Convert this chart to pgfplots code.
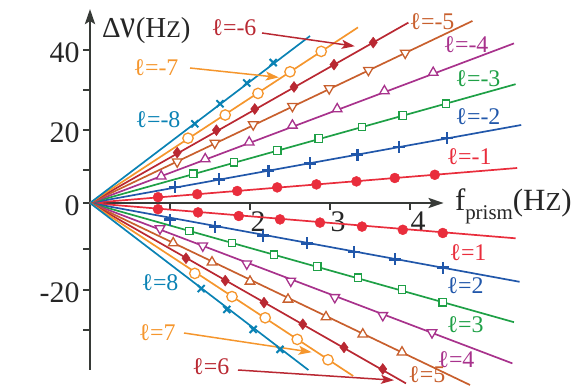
\documentclass[border=0pt]{standalone}
\usepackage{fontspec}
\setmainfont{Liberation Serif}
\usepackage{pgfplots}
\pgfplotsset{compat=1.18}
\usetikzlibrary{arrows.meta}

\definecolor{axgray}{RGB}{55,58,55}
\definecolor{cone}{RGB}{233,45,60}
\definecolor{ctwo}{RGB}{33,87,170}
\definecolor{cthree}{RGB}{30,160,70}
\definecolor{cfour}{RGB}{168,50,140}
\definecolor{cfive}{RGB}{200,95,45}
\definecolor{csix}{RGB}{185,40,50}
\definecolor{cseven}{RGB}{245,150,45}
\definecolor{ceight}{RGB}{10,130,180}

\newcommand{\lab}{\fontsize{24}{24}\selectfont}
\newcommand{\smz}{{\fontsize{24}{24}\selectfont Z}}

\tikzset{
  fit/.style={line width=1.7bp},
  pts/.style={only marks, mark size=5bp},
  open/.style={mark options={fill=white, line width=1.3bp}},
  ann/.style={line width=1.5bp, -{Stealth[length=13bp,width=9bp,inset=3bp]}}
}

\begin{document}
\begin{tikzpicture}
\begin{axis}[
  x=80bp, y=4bp,
  xmin=-1.125, xmax=6.15, ymin=-46.25, ymax=50.75,
  axis lines=middle, axis line style={draw=none},
  clip=false,
  xtick={1,2,3,4}, xticklabels={,2,3,4},
  ytick={-31.75,-21.75,-11.5,0,8.25,18.25,28.25,38.25},
  yticklabels={,\textnormal{-20},,0,,20,,40},
  hide obscured x ticks=false, hide obscured y ticks=false,
  tick align=outside, major tick length=7bp,
  tick style={line width=2.5bp, color=axgray},
  /pgf/number format/assume math mode=true,
  ticklabel style={font=\fontsize{30}{30}\selectfont, text=black!85},
  xticklabel style={anchor=north, xshift=8bp, yshift=2bp},
  yticklabel style={anchor=east, yshift=-3bp},
]
\coordinate (bl) at (rel axis cs:0,0);
\coordinate (tr) at (rel axis cs:1,1);

% axes
\draw[axgray, line width=2.8bp, -{Stealth[length=15bp,width=10bp,inset=3bp]}] (axis cs:0,-41.75) -- (axis cs:0,48.5);
\draw[axgray, line width=2.5bp, -{Stealth[length=15bp,width=10bp,inset=3bp]}] (axis cs:0,0) -- (axis cs:4.42,0);

% l = -1 .. -8
\addplot[cone, fit] coordinates {(0,0) (5.34,8.75)};
\addplot[cone, pts, mark=*] coordinates {(0.85,1.45) (1.34,2.2) (1.84,3.0) (2.34,3.9) (2.83,4.65) (3.33,5.4) (3.81,6.25) (4.31,7.05)};
\addplot[ctwo, fit] coordinates {(0,0) (5.39,19.5)};
\addplot[ctwo, pts, mark=+, mark size=6bp, mark options={line width=2.6bp}] coordinates {(1.06,4.0) (1.61,5.9) (2.23,8.05) (2.75,9.9) (3.34,12.05) (3.86,14.0) (4.46,16.2)};
\addplot[cthree, fit] coordinates {(0,0) (5.32,29.7)};
\addplot[cthree, pts, mark=square*, mark size=3.8bp, open] coordinates {(1.29,7.3) (1.80,10.2) (2.34,13.1) (2.86,16.1) (3.40,19.0) (3.91,21.9) (4.45,24.8)};
\addplot[cfour, fit] coordinates {(0,0) (5.30,39.9)};
\addplot[cfour, pts, mark=triangle*, mark size=5.5bp, open] coordinates {(0.89,6.7) (1.44,11.0) (1.99,15.2) (2.53,19.4) (3.09,23.5) (3.68,28.0) (4.29,32.6)};
\addplot[cfive, fit] coordinates {(0,0) (4.78,45.5)};
\addplot[cfive, pts, mark=triangle*, mark size=5.5bp, mark options={fill=white, line width=1.3bp, rotate=180}] coordinates {(1.09,10.3) (1.56,15.0) (2.04,19.6) (2.53,24.2) (2.99,28.6) (3.48,33.2) (3.94,37.5)};
\addplot[csix, fit] coordinates {(0,0) (3.98,45.1)};
\addplot[csix, pts, mark=diamond*, mark size=5.5bp] coordinates {(1.09,12.6) (1.58,18.2) (2.06,23.5) (2.55,29.0) (3.05,34.6) (3.54,40.1)};
\addplot[cseven, fit] coordinates {(0,0) (3.35,43.9)};
\addplot[cseven, pts, mark=*, mark size=5.2bp, open] coordinates {(1.225,16.2) (1.69,22.0) (2.10,27.4) (2.50,32.8) (2.89,37.9)};
\addplot[ceight, fit] coordinates {(0,0) (2.75,41.75)};
\addplot[ceight, pts, mark=x, mark size=5bp, mark options={line width=2bp}] coordinates {(1.31,19.8) (1.625,24.8) (1.96,30.0) (2.29,35.1)};

% l = 1 .. 8
\addplot[cone, fit] coordinates {(0,0) (5.32,-8.83)};
\addplot[cone, pts, mark=*] coordinates {(0.85,-1.55) (1.35,-2.35) (1.86,-3.25) (2.375,-4.1) (2.875,-4.9) (3.40,-5.9) (3.91,-6.7) (4.41,-7.5)};
\addplot[ctwo, fit] coordinates {(0,0) (5.37,-19.7)};
\addplot[ctwo, pts, mark=+, mark size=6bp, mark options={line width=2.6bp}] coordinates {(1.0,-4.2) (1.56,-5.9) (2.16,-8.2) (2.71,-10.1) (3.3,-12.3) (3.81,-14.1) (4.41,-16.2)};
\addplot[cthree, fit] coordinates {(0,0) (5.30,-29.8)};
\addplot[cthree, pts, mark=square*, mark size=3.8bp, open] coordinates {(1.24,-7.0) (1.775,-10.0) (2.3,-12.95) (2.84,-15.9) (3.35,-18.7) (3.9,-21.6) (4.41,-24.8)};
\addplot[cfour, fit] coordinates {(0,0) (5.28,-40.1)};
\addplot[cfour, pts, mark=triangle*, mark size=5.5bp, mark options={fill=white, line width=1.3bp, rotate=180}] coordinates {(0.875,-6.4) (1.41,-10.7) (1.96,-15.2) (2.51,-19.5) (3.06,-23.6) (3.66,-28.1) (4.275,-32.4)};
\addplot[cfive, fit] coordinates {(0,0) (4.75,-45.5)};
\addplot[cfive, pts, mark=triangle*, mark size=5.5bp, open] coordinates {(1.04,-10.0) (1.525,-14.8) (2.0,-19.6) (2.475,-24.1) (2.95,-28.5) (3.41,-32.8) (3.9,-37.3)};
\addplot[csix, fit] coordinates {(0,0) (3.95,-45.1)};
\addplot[csix, pts, mark=diamond*, mark size=5.5bp] coordinates {(1.2,-13.8) (1.69,-19.4) (2.175,-24.9) (2.66,-30.3) (3.175,-36.1) (3.66,-41.5)};
\addplot[cseven, fit] coordinates {(0,0) (3.29,-43.25)};
\addplot[cseven, pts, mark=*, mark size=5.2bp, open] coordinates {(1.31,-17.6) (1.775,-23.4) (2.19,-28.7) (2.59,-34.1) (2.975,-39.2)};
\addplot[ceight, fit] coordinates {(0,0) (2.73,-41.75)};
\addplot[ceight, pts, mark=x, mark size=5bp, mark options={line width=2bp}] coordinates {(1.39,-21.4) (1.71,-26.6) (2.04,-31.6) (2.375,-36.6)};

% axis titles
\node[anchor=west, font=\fontsize{29}{29}\selectfont, text=black!85, inner sep=0pt] at (axis cs:0.15,43.2)
  {Δ\scalebox{1.15}[1.4]{ν}(H\smz)};
\node[anchor=base west, font=\fontsize{31}{31}\selectfont, text=black!85, inner sep=0pt] at (axis cs:4.56,-1.9)
  {f\raisebox{-0.3em}{\fontsize{21}{21}\selectfont prism}(H{\fontsize{26}{26}\selectfont Z})};

% series labels
\node[ceight, font=\lab] at (axis cs:0.85,20.75) {ℓ=-8};
\node[cseven, font=\lab] at (axis cs:0.825,33.75) {ℓ=-7};
\draw[cseven, ann] (axis cs:1.25,33.75) -- (axis cs:2.36,31.4);
\node[csix, font=\lab] at (axis cs:1.8,43.75) {ℓ=-6};
\draw[csix, ann] (axis cs:2.15,42.5) -- (axis cs:3.31,39.2);
\node[cfive, font=\lab] at (axis cs:4.275,45.25) {ℓ=-5};
\node[cfour, font=\lab] at (axis cs:4.7,39.5) {ℓ=-4};
\node[cthree, font=\lab] at (axis cs:4.85,31) {ℓ=-3};
\node[ctwo, font=\lab] at (axis cs:4.85,21.5) {ℓ=-2};
\node[cone, font=\lab] at (axis cs:4.74,11.5) {ℓ=-1};

\node[cone, font=\lab] at (axis cs:4.725,-12.5) {ℓ=1};
\node[ctwo, font=\lab] at (axis cs:4.69,-20.75) {ℓ=2};
\node[cthree, font=\lab] at (axis cs:4.69,-30.5) {ℓ=3};
\node[cfour, font=\lab] at (axis cs:4.575,-39.25) {ℓ=4};
\node[cfive, font=\lab, anchor=base, inner sep=0pt] at (axis cs:4.21,-44.9) {ℓ=5};
\node[csix, font=\lab] at (axis cs:1.51,-41) {ℓ=6};
\draw[csix, ann] (axis cs:1.85,-41.75) -- (axis cs:3.8,-44.3);
\node[cseven, font=\lab] at (axis cs:0.84,-32.5) {ℓ=7};
\draw[cseven, ann] (axis cs:1.175,-32.5) -- (axis cs:2.77,-37.3);
\node[ceight, font=\lab] at (axis cs:0.875,-20) {ℓ=8};
\end{axis}
\pgfresetboundingbox
\path (bl) rectangle (tr);
\end{tikzpicture}
\end{document}
